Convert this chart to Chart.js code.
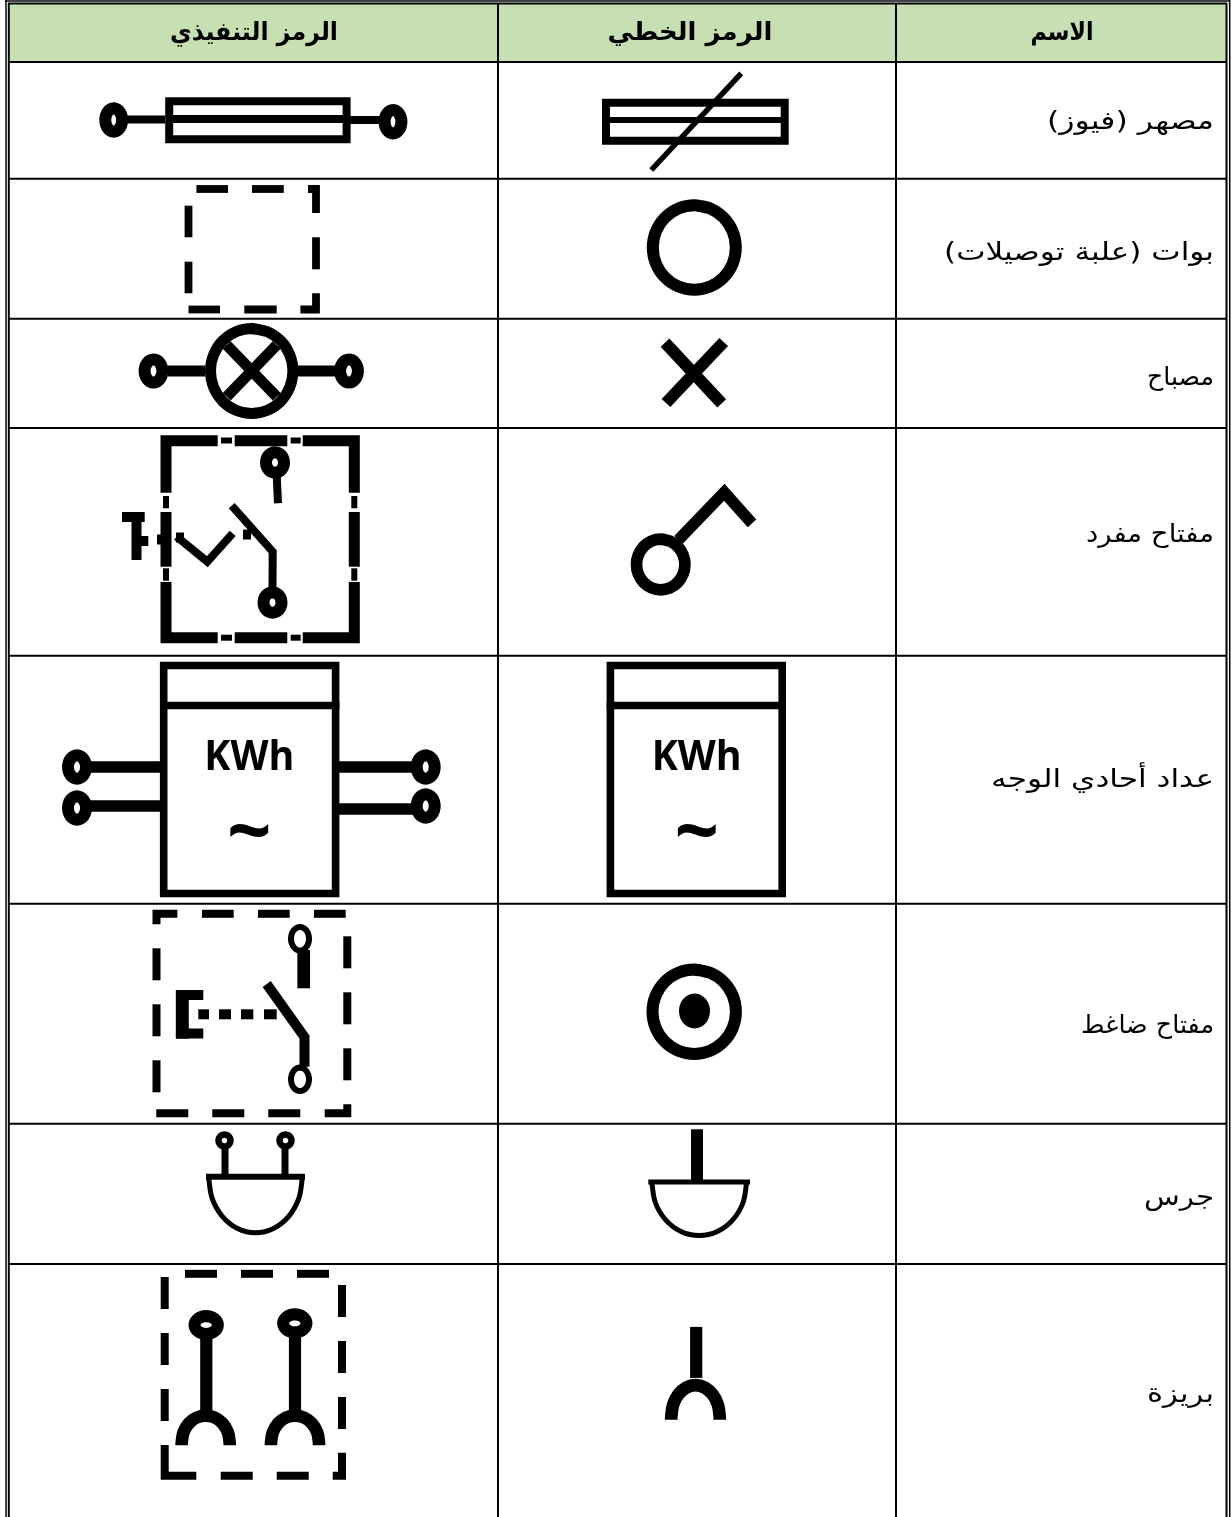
<!DOCTYPE html>
<html>
<head>
    <meta charset="utf-8">
    <title>Symbols table</title>
    <script src="https://cdn.jsdelivr.net/npm/chart.js"></script>
    <style>
        html, body { margin: 0; background: #fff; }
        canvas { display: block; }
    </style>
</head>
<body>
    <canvas id="symbols" width="1231" height="1517"></canvas>
    <script>
        const headers = ['الرمز التنفيذي', 'الرمز الخطي', 'الاسم'];
        const headerCentres = [254, 690, 1062];
        const headerWidths = [168, 165, 63];
        const names = ['مصهر (فيوز)', 'بوات (علبة توصيلات)', 'مصباح', 'مفتاح مفرد', 'عداد أحادي الوجه', 'مفتاح ضاغط', 'جرس', 'بريزة'];
        const nameWidths = [167, 270, 67, 128, 223, 133, 70, 67];
        const nameRows = [122, 253, 378, 535, 780, 1026, 1198, 1395];
        const meterLabels = ['KWh', '~'];

        const rowLines = [62, 178.7, 318.7, 428, 655.7, 903.7, 1123.7, 1264];
        const colLines = [498, 896];

        // outline vertices of a unit ring / half ring, smoothed by the line tension
        const ringOutline = [[0,-1],[.383,-.924],[.707,-.707],[.924,-.383],[1,0],[.924,.383],[.707,.707],[.383,.924],[0,1],
            [-.383,.924],[-.707,.707],[-.924,.383],[-1,0],[-.924,-.383],[-.707,-.707],[-.383,-.924],[0,-1],[.383,-.924]];
        const archUp = [[-1,.1],[-1,0],[-.924,-.383],[-.707,-.707],[-.383,-.924],[0,-1],[.383,-.924],[.707,-.707],[.924,-.383],[1,0],[1,.1]];
        const bowlDown = [[-1,0],[-.924,.383],[-.707,.707],[-.383,.924],[0,1],[.383,.924],[.707,.707],[.924,.383],[1,0]];

        // small terminals: cx, cy, rx, ry
        const terminals = [
            [113.7,120,8.4,11.7],[393,121.7,8.4,11.7],
            [153.5,371,8.9,11.6],[349,371,8.9,11.6],
            [275,462.5,9,10.2],[272.5,602.5,9,10.2],
            [77,767,9,11.7],[77,808,9,11.7],[425.7,767,9,11.7],[425.7,806,9,11.7],
            [206.2,1325,11.7,9],[294.8,1323.3,11.7,9]
        ];
        const pushTerminals = [[300,938.7,9,11.8],[300,1079.3,9,11.8]];
        const bellTerminals = [[224.5,1140.5,6,6],[285.5,1140.5,6,6]];

        const fuseOp = [
            [[169.2,101.3],[346.6,101.3],[346.6,139.3],[169.2,139.3],[169.2,97.3]],
            [[169,119],[346,119]], [[126,119.5],[165,119.5]], [[350,120],[381,120]]
        ];
        const fuseLine = [
            [[606,102.7],[784.7,102.7],[784.7,140.7],[606,140.7],[606,98.7]]
        ];
        const fuseLineMid = [[[606,120],[784,120]]];
        const fuseSlash = [[[741.2,73.3],[651.3,170]]];

        const boxDashes = [
            [[196.4,189],[228,189]], [[252,189],[283.8,189]], [[308,189],[316,189],[316,213]],
            [[316,237.3],[316,269.3]], [[316,293.3],[316,309.5],[300.4,309.5]],
            [[188.5,309.5],[220,309.5]], [[244.3,309.5],[276.7,309.5]],
            [[188.5,205.7],[188.5,237.3]], [[188.5,261.7],[188.5,293.3]]
        ];

        const lampOp = [
            [[226.7,345],[276.7,396.7]], [[276.7,345],[226.7,396.7]],
            [[168,371],[205,371]], [[298,371],[335,371]]
        ];
        const lampLine = [[[665,342.7],[721.7,403.3]], [[723.7,342],[666,403]]];

        const switchFrame = [
            [[166,492.7],[166,440.7],[217.7,440.7]], [[234.7,440.7],[287.3,440.7]], [[302.7,440.7],[354.3,440.7],[354.3,492.7]],
            [[166,582],[166,637.7],[217.7,637.7]], [[234.7,637.7],[287.3,637.7]], [[302.7,637.7],[354.3,637.7],[354.3,582]],
            [[166,512],[166,566.7]], [[354.3,512],[354.3,566.7]]
        ];
        const switchTicks = [
            [[221,440.5],[232,440.5]], [[290.7,440.5],[300.7,440.5]],
            [[221,637.7],[232,637.7]], [[290.7,637.7],[300.7,637.7]],
            [[166,496],[166,508.3]], [[166,568.3],[166,580.7]],
            [[354.3,496],[354.3,508.3]], [[354.3,568.3],[354.3,580.7]]
        ];
        const switchHandle = [
            [[122,517],[144.7,517]], [[136.5,517],[136.5,560]], [[136.5,541],[148.3,541]],
            [[157,539.5],[162,539.5]], [[176,537.5],[184,537.5]], [[243,534.5],[251,534.5]]
        ];
        const switchLever = [
            [[231.7,505.7],[272.7,551.7],[272.5,588]], [[276.7,475],[278,503.3]],
            [[176.7,536.7],[207.3,561.7],[232.7,533.3]]
        ];

        const meterOp = [
            [[163.7,665.5],[335.6,665.5],[335.6,893.5],[163.7,893.5],[163.7,661.7]],
            [[160,705.5],[339.4,705.5]]
        ];
        const meterWires = [
            [[90,767],[160,767]], [[90,806],[160,806]], [[339,767],[413,767]], [[339,809],[413,809]]
        ];
        const meterLine = [
            [[610.4,665.5],[782.2,665.5],[782.2,893.5],[610.4,893.5],[610.4,661.7]],
            [[606.7,705.5],[786,705.5]]
        ];

        const pushFrame = [
            [[156.5,924.3],[156.5,913.8],[177.3,913.8]], [[202,913.8],[233.7,913.8]], [[258,913.8],[289.7,913.8]], [[314,913.8],[345.7,913.8]],
            [[347.3,936.3],[347.3,968.3]], [[347.3,992.3],[347.3,1024.3]], [[347.3,1048.3],[347.3,1080.3]],
            [[324.7,1113.3],[347.3,1113.3],[347.3,1104.3]],
            [[156.3,1113.3],[188.3,1113.3]], [[212.3,1113.3],[244.3,1113.3]], [[268.3,1113.3],[300.3,1113.3]],
            [[156.5,948.3],[156.5,980.3]], [[156.5,1004.3],[156.5,1036.3]], [[156.5,1060.3],[156.5,1092.3]]
        ];
        const pushPlunger = [
            [[176,995],[203.3,995]], [[176,1033.5],[203.3,1033.5]],
            [[198.3,1014.3],[209,1014.3]], [[219,1014.3],[231,1014.3]], [[241,1014.3],[253.3,1014.3]], [[264,1014.3],[276.7,1014.3]],
            [[266.7,984],[304.5,1037],[304.5,1066.7]]
        ];
        const pushBack = [[[182.3,990],[182.3,1038.7]]];
        const pushStem = [[[303.7,950],[303.7,988.3]]];

        const bellStems = [[[225,1148],[225,1175]], [[285,1148],[285,1175]]];
        const bellRim = [[[206,1176.7],[305,1176.7]]];
        const bellLineRim = [[[648.3,1182],[750,1182]]];
        const bellLineStem = [[[697,1129.3],[697,1180]]];

        const socketFrame = [
            [[185,1273.8],[217,1273.8]], [[241,1273.8],[273,1273.8]], [[297,1273.8],[329,1273.8]],
            [[164.7,1277],[164.7,1309]], [[164.7,1333],[164.7,1365]], [[164.7,1389],[164.7,1421]],
            [[164.7,1445],[164.7,1475.7],[196.3,1475.7]], [[220.7,1475.7],[252.7,1475.7]], [[276.7,1475.7],[308.7,1475.7]],
            [[332.7,1475.7],[342,1475.7],[342,1452.7]],
            [[342,1285],[342,1317]], [[342,1341],[342,1373]], [[342,1397],[342,1429]]
        ];
        const socketStems = [[[206.3,1338],[206.3,1410]], [[295,1336],[295,1410]], [[696.2,1326.9],[696.2,1377.9]]];

        const keyLine = [[[678.3,540],[724.3,492.3],[752,523.3]]];

        const datasets = [];
        const addLines = (lines, width) => lines.forEach(pts => datasets.push({
            data: pts.map(p => ({x: p[0], y: p[1]})),
            showLine: true, borderColor: '#000', borderWidth: width,
            pointRadius: 0, borderDash: [9000], borderCapStyle: 'butt', borderJoinStyle: 'miter'
        }));
        const addCurve = (outline, cx, cy, rx, ry, width) => datasets.push({
            data: outline.map(p => ({x: cx + p[0] * rx, y: cy + p[1] * ry})),
            showLine: true, borderColor: '#000', borderWidth: width,
            pointRadius: 0, tension: 0.34, borderCapStyle: 'butt'
        });

        // header band
        datasets.push({
            data: [{x: 9, y: 4}, {x: 1226, y: 4}], showLine: true, order: 1,
            borderWidth: 0, pointRadius: 0, fill: {value: 62}, backgroundColor: '#C6E0B4'
        });

        // table rules
        addLines(rowLines.map(y => [[8, y], [1226, y]]), 2);
        addLines(colLines.map(x => [[x, 3], [x, 1517]]), 2);
        addLines([[[6, 0], [6, 1517]], [[1229.7, 0], [1229.7, 1517]], [[5, 1], [1230, 1]]], 1.5);
        addLines([[[8.8, 3], [8.8, 1517]], [[1226.5, 3], [1226.5, 1517]], [[8, 3.4], [1227, 3.4]]], 2);

        addLines(fuseOp, 8);
        addLines(fuseLine, 8);
        addLines(fuseLineMid, 6);
        addLines(fuseSlash, 5.5);
        addLines(boxDashes, 7.8);
        addLines(lampOp, 11);
        addLines(lampLine, 12);
        addLines(switchFrame, 11);
        addLines(switchTicks, 6);
        addLines(switchHandle, 10);
        addLines(switchLever, 8);
        addLines(meterOp, 7.6);
        addLines(meterLine, 7.6);
        addLines(meterWires, 11.7);
        addLines(pushFrame, 8);
        addLines(pushPlunger, 10);
        addLines(pushBack, 13);
        addLines(pushStem, 12.7);
        addLines(bellStems, 7);
        addLines(bellRim, 6);
        addLines(bellLineRim, 5);
        addLines(bellLineStem, 12);
        addLines(socketFrame, 8);
        addLines(socketStems, 12.2);
        addLines(keyLine, 11.5);

        terminals.forEach(t => addCurve(ringOutline, t[0], t[1], t[2], t[3], 12));
        pushTerminals.forEach(t => addCurve(ringOutline, t[0], t[1], t[2], t[3], 6));
        bellTerminals.forEach(t => addCurve(ringOutline, t[0], t[1], t[2], t[3], 6.5));
        addCurve(ringOutline, 251.7, 371, 41.2, 42.5, 11);      // lamp
        addCurve(ringOutline, 694.3, 247.5, 41.5, 42.3, 12);    // junction box
        addCurve(ringOutline, 660.7, 564.5, 24.2, 25.3, 11.7);  // switch
        addCurve(ringOutline, 694.2, 1011.7, 41.7, 42.2, 12);   // push button
        addCurve(ringOutline, 694.5, 1011, 7.5, 9.5, 16);
        addCurve(bowlDown, 255.5, 1176.7, 47, 56, 5);           // bell
        addCurve(bowlDown, 699.2, 1182, 47.5, 53.5, 5);
        addCurve(archUp, 205.7, 1442.6, 24, 27, 12.6);          // sockets
        addCurve(archUp, 295, 1442.6, 24, 27, 12.6);
        addCurve(archUp, 695.5, 1416.6, 24.2, 31.4, 12.7);

        // text stretched along x to the width it has in the table
        const stretched = (ctx, text, px, py, width) => {
            const scale = width / ctx.measureText(text).width;
            ctx.save();
            ctx.translate(px, py);
            ctx.scale(scale, 1);
            ctx.fillText(text, 0, 0);
            ctx.restore();
        };

        const tableText = {
            id: 'tableText',
            afterDatasetsDraw(chart) {
                const {ctx, scales: {x, y}} = chart;
                ctx.save();
                ctx.fillStyle = '#000';
                ctx.textBaseline = 'middle';
                ctx.direction = 'rtl';

                ctx.font = 'bold 25px "DejaVu Sans"';
                ctx.textAlign = 'center';
                headers.forEach((h, i) => {
                    stretched(ctx, h, x.getPixelForValue(headerCentres[i]), y.getPixelForValue(33), headerWidths[i]);
                });

                ctx.font = '25px "DejaVu Sans"';
                ctx.textAlign = 'right';
                names.forEach((name, i) => {
                    stretched(ctx, name, x.getPixelForValue(1214), y.getPixelForValue(nameRows[i]), nameWidths[i]);
                });

                ctx.direction = 'ltr';
                ctx.textAlign = 'center';
                [249.3, 696.7].forEach(cx => {
                    ctx.font = 'bold 41px "Open Sans"';
                    ctx.textBaseline = 'alphabetic';
                    ctx.fillText(meterLabels[0], x.getPixelForValue(cx), y.getPixelForValue(770), 90);
                    ctx.font = 'bold 78px "Open Sans"';
                    ctx.textBaseline = 'middle';
                    ctx.fillText(meterLabels[1], x.getPixelForValue(cx), y.getPixelForValue(836));
                });
                ctx.restore();
            }
        };

        new Chart(document.getElementById('symbols').getContext('2d'), {
            type: 'scatter',
            data: {datasets: datasets},
            plugins: [tableText],
            options: {
                responsive: false,
                animation: false,
                events: [],
                layout: {padding: 0},
                plugins: {legend: {display: false}, tooltip: {enabled: false}, title: {display: false}},
                scales: {
                    x: {type: 'linear', min: 0, max: 1231, display: false},
                    y: {type: 'linear', min: 0, max: 1517, reverse: true, display: false}
                }
            }
        });
    </script>
</body>
</html>
